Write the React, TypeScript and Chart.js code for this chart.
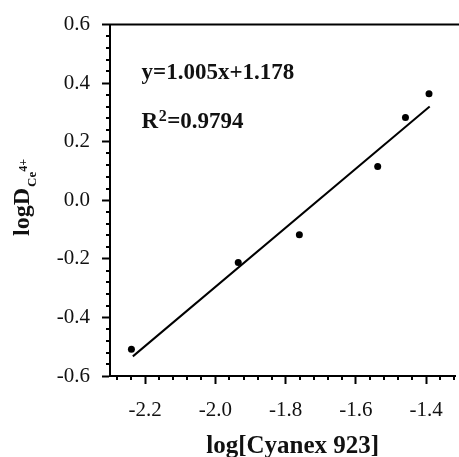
import React, { useEffect, useRef } from "react";
import { Chart, registerables } from "chart.js";

Chart.register(...registerables);

// Data
const xValues = [-2.239, -1.935, -1.761, -1.538, -1.459, -1.392];
const yValues = [-0.509, -0.212, -0.118, 0.115, 0.283, 0.364];
const fitX = [-2.235, -1.39];
const fitY = [-0.533, 0.32];

const xMajorTicks = [-2.2, -2.0, -1.8, -1.6, -1.4];
const yMajorTicks = [-0.6, -0.4, -0.2, 0.0, 0.2, 0.4, 0.6];
const minorStep = 0.04;

const equationText = "y=1.005x+1.178";
const r2Text = "=0.9794";
const xTitle = "log[Cyanex 923]";

const SERIF = "'Liberation Serif', 'Times New Roman', serif";
const INK = "#111";

function minorTicks(min: number, max: number, majors: number[]): number[] {
  const out: number[] = [];
  const n = Math.round((max - min) / minorStep);
  for (let i = 0; i <= n; i++) {
    const v = +(min + i * minorStep).toFixed(3);
    if (!majors.some((m) => Math.abs(m - v) < 1e-6)) out.push(v);
  }
  return out;
}

const xMinor = minorTicks(-2.28, -1.32, xMajorTicks);
const yMinor = minorTicks(-0.6, 0.6, yMajorTicks);

const decorPlugin = {
  id: "decor",
  afterDraw(chart: any) {
    const ctx = chart.ctx as CanvasRenderingContext2D;
    const xs = chart.scales.x;
    const ys = chart.scales.y;
    const area = chart.chartArea;
    ctx.save();
    ctx.strokeStyle = "#000";
    ctx.lineWidth = 2;
    // top frame line
    ctx.beginPath();
    ctx.moveTo(area.left - 1, area.top);
    ctx.lineTo(chart.width, area.top);
    ctx.stroke();
    // minor ticks
    ctx.beginPath();
    xMinor.forEach((v) => {
      const px = Math.round(xs.getPixelForValue(v));
      ctx.moveTo(px, area.bottom);
      ctx.lineTo(px, area.bottom + 4);
    });
    yMinor.forEach((v) => {
      const py = Math.round(ys.getPixelForValue(v));
      ctx.moveTo(area.left, py);
      ctx.lineTo(area.left - 4, py);
    });
    ctx.stroke();

    // annotations
    ctx.fillStyle = INK;
    ctx.textBaseline = "alphabetic";
    ctx.textAlign = "left";
    ctx.font = `bold 23px ${SERIF}`;
    const ax = xs.getPixelForValue(-2.21);
    ctx.fillText(equationText, ax, ys.getPixelForValue(0.415));
    const rb = ys.getPixelForValue(0.246);
    ctx.fillText("R", ax, rb);
    const w = ctx.measureText("R").width;
    ctx.font = `bold 16px ${SERIF}`;
    ctx.fillText("2", ax + w + 0.5, rb - 7);
    const w2 = ctx.measureText("2").width;
    ctx.font = `bold 23px ${SERIF}`;
    ctx.fillText(r2Text, ax + w + w2 + 1, rb);

    // x-axis title
    ctx.font = `bold 25px ${SERIF}`;
    ctx.textAlign = "center";
    ctx.fillText(xTitle, xs.getPixelForValue(-1.78), area.bottom + 77);
    ctx.textAlign = "left";

    // y-axis title with subscript / superscript
    ctx.translate(29, 236);
    ctx.rotate(-Math.PI / 2);
    ctx.font = `bold 24px ${SERIF}`;
    ctx.fillText("logD", 0, 0);
    const wm = ctx.measureText("logD").width;
    ctx.font = `bold 13px ${SERIF}`;
    ctx.fillText("Ce", wm + 1, 7);
    const ws = ctx.measureText("Ce").width;
    ctx.font = `bold 12px ${SERIF}`;
    ctx.fillText("4+", wm + ws + 1, -2);
    ctx.restore();
  },
};

export default function App() {
  const canvasRef = useRef<HTMLCanvasElement | null>(null);

  useEffect(() => {
    if (!canvasRef.current) return;
    const chart = new Chart(canvasRef.current, {
      type: "scatter",
      data: {
        datasets: [
          {
            type: "line",
            data: fitX.map((x, i) => ({ x, y: fitY[i] })),
            borderColor: "#000",
            borderWidth: 2,
            pointRadius: 0,
            showLine: true,
            fill: false,
          } as any,
          {
            type: "scatter",
            data: xValues.map((x, i) => ({ x, y: yValues[i] })),
            backgroundColor: "#000",
            borderColor: "#000",
            pointRadius: 3.5,
            pointBorderWidth: 0,
          },
        ],
      },
      options: {
        responsive: false,
        animation: false,
        devicePixelRatio: 1,
        layout: { padding: { top: 20, left: 0, right: 0, bottom: 0 } },
        plugins: {
          legend: { display: false },
          tooltip: { enabled: false },
        },
        scales: {
          x: {
            type: "linear",
            min: -2.3,
            max: -1.318,
            afterBuildTicks: (scale: any) => {
              scale.ticks = xMajorTicks.map((v) => ({ value: v }));
            },
            afterFit: (scale: any) => {
              scale.height = 81;
            },
            ticks: {
              color: INK,
              font: { family: SERIF, size: 21 },
              padding: 14,
              maxRotation: 0,
              autoSkip: false,
              callback: (v: any) => Number(v).toFixed(1),
            },
            grid: {
              drawOnChartArea: false,
              drawTicks: true,
              tickLength: 8,
              tickWidth: 2,
              tickColor: "#000",
            },
            border: { display: true, color: "#000", width: 2 },
            title: { display: false },
          },
          y: {
            type: "linear",
            min: -0.6,
            max: 0.6,
            afterBuildTicks: (scale: any) => {
              scale.ticks = yMajorTicks.map((v) => ({ value: v }));
            },
            afterFit: (scale: any) => {
              scale.width = 110;
            },
            ticks: {
              color: INK,
              font: { family: SERIF, size: 21 },
              padding: 12,
              autoSkip: false,
              callback: (v: any) => Number(v).toFixed(1),
            },
            grid: {
              drawOnChartArea: false,
              drawTicks: true,
              tickLength: 8,
              tickWidth: 2,
              tickColor: "#000",
            },
            border: { display: true, color: "#000", width: 2 },
          },
        },
      },
      plugins: [decorPlugin],
    });
    return () => chart.destroy();
  }, []);

  return (
    <div
      style={{
        position: "fixed",
        left: 0,
        top: 0,
        width: 459,
        height: 457,
        background: "#fff",
      }}
    >
      <canvas ref={canvasRef} width={459} height={457} />
    </div>
  );
}
